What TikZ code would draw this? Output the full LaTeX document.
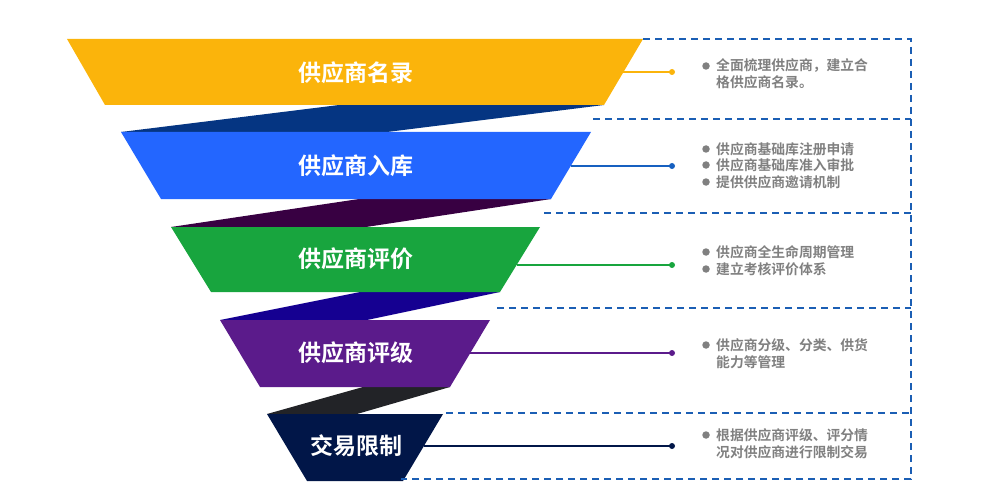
\documentclass[tikz,border=0pt]{standalone}
\usepackage{fontspec}
\newfontfamily\cjk{Noto Sans CJK SC}[BoldFont={Noto Sans CJK SC Bold}]
\definecolor{cyel}{HTML}{FBB40B}
\definecolor{cband1}{HTML}{053582}
\definecolor{cblue}{HTML}{2366FF}
\definecolor{cband2}{HTML}{380042}
\definecolor{cgreen}{HTML}{18A53E}
\definecolor{cband3}{HTML}{150091}
\definecolor{cpurple}{HTML}{5B1B8B}
\definecolor{cband4}{HTML}{222327}
\definecolor{cnavy}{HTML}{011648}
\definecolor{cdash}{HTML}{1B5EB4}
\definecolor{cline2}{HTML}{1660C0}
\definecolor{cgray}{HTML}{808080}
\tikzset{
  title/.style={text=white,font=\cjk\bfseries\fontsize{23}{26}\selectfont,inner sep=0pt},
  desc/.style={text=cgray,font=\cjk\bfseries\fontsize{13.8}{16}\selectfont,anchor=west,inner sep=0pt},
  bul/.style={circle,fill=cgray,inner sep=0pt,minimum size=7.5pt},
  conn/.style={line width=2pt},
  boxline/.style={cdash,line width=1.8pt,dash pattern=on 7pt off 5pt},
}
\begin{document}
\begin{tikzpicture}[x=1pt,y=-1pt]
\useasboundingbox (0,0) rectangle (1004,484);
% bands
\fill[cband1] (121,132) -- (339,105) -- (604,105) -- (387,132) -- cycle;
\fill[cband2] (171,227) -- (359,199) -- (551,199) -- (366,227) -- cycle;
\fill[cband3] (220,320) -- (360,292) -- (500,292) -- (367,320) -- cycle;
\fill[cband4] (267,414) -- (363,387) -- (450,387) -- (357,414) -- cycle;
% trapezoids
\fill[cyel] (67,39) -- (643,39) -- (604,105) -- (105,105) -- cycle;
\fill[cblue] (121,132) -- (591,132) -- (551,199) -- (161,199) -- cycle;
\fill[cgreen] (171,227) -- (540,227) -- (500,292) -- (211,292) -- cycle;
\fill[cpurple] (220,320) -- (490,320) -- (450,387) -- (260,387) -- cycle;
\fill[cnavy] (267,414) -- (443,414) -- (403,481) -- (307,481) -- cycle;
% titles
\node[title] (t1) at (356,73) {供应商名录};
\node[title] (t2) at (356,166) {供应商入库};
\node[title] (t3) at (356,259) {供应商评价};
\node[title] (t4) at (356,353) {供应商评级};
\node[title] (t5) at (356,446) {交易限制};
% dashed frame
\draw[boxline] (643,39) -- (911,39) -- (911,479) -- (401,479);
\draw[boxline] (593,119) -- (911,119);
\draw[boxline] (544,213) -- (911,213);
\draw[boxline] (497,308) -- (911,308);
\draw[boxline] (446,413) -- (911,413);
% connectors
\coordinate (s1) at (623,72);
\coordinate (s2) at (571,166);
\coordinate (s3) at (517,265);
\coordinate (s4) at (470,353);
\coordinate (s5) at (424,446);
\node[circle,fill=cyel,inner sep=0pt,minimum size=6pt] (d1) at (672,72) {};
\node[circle,fill=cline2,inner sep=0pt,minimum size=6pt] (d2) at (672,166) {};
\node[circle,fill=cgreen,inner sep=0pt,minimum size=6pt] (d3) at (672,265) {};
\node[circle,fill=cpurple,inner sep=0pt,minimum size=6pt] (d4) at (672,353) {};
\node[circle,fill=cnavy,inner sep=0pt,minimum size=6pt] (d5) at (672,446) {};
\draw[conn,cyel] (s1) -- (d1.center);
\draw[conn,cline2] (s2) -- (d2.center);
\draw[conn,cgreen] (s3) -- (d3.center);
\draw[conn,cpurple] (s4) -- (d4.center);
\draw[conn,cnavy] (s5) -- (d5.center);
% descriptions
\node[bul] (b1) at (706,66) {};
\node[desc] (e1a) at (716,66) {全面梳理供应商，建立合};
\node[desc] (e1b) at (716,82) {格供应商名录。};
\node[bul] (b2a) at (706,149) {};
\node[desc] (e2a) at (716,149) {供应商基础库注册申请};
\node[bul] (b2b) at (706,165) {};
\node[desc] (e2b) at (716,165) {供应商基础库准入审批};
\node[bul] (b2c) at (706,182) {};
\node[desc] (e2c) at (716,182) {提供供应商邀请机制};
\node[bul] (b3a) at (706,252) {};
\node[desc] (e3a) at (716,252) {供应商全生命周期管理};
\node[bul] (b3b) at (706,269) {};
\node[desc] (e3b) at (716,269) {建立考核评价体系};
\node[bul] (b4) at (706,345) {};
\node[desc] (e4a) at (716,345) {供应商分级、分类、供货};
\node[desc] (e4b) at (716,362) {能力等管理};
\node[bul] (b5) at (706,435) {};
\node[desc] (e5a) at (716,435) {根据供应商评级、评分情};
\node[desc] (e5b) at (716,452) {况对供应商进行限制交易};
\end{tikzpicture}
\end{document}
